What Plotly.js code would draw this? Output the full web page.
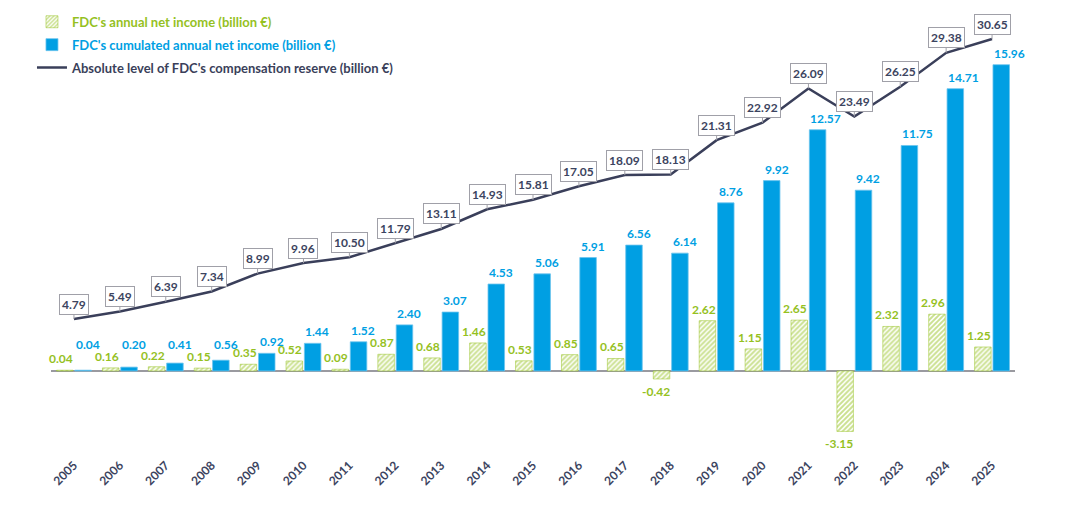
<!DOCTYPE html>
<html>
<head>
<meta charset="utf-8">
<script src="https://cdn.plot.ly/plotly-3.0.1.min.js"></script>
<style>html,body{margin:0;padding:0;background:#fff;}#chart{width:1066px;height:522px;}</style>
</head>
<body>
<div id="chart"></div>
<script>
const years = ['2005','2006','2007','2008','2009','2010','2011','2012','2013','2014','2015','2016','2017','2018','2019','2020','2021','2022','2023','2024','2025'];
const annualNetIncome = [0.04,0.16,0.22,0.15,0.35,0.52,0.09,0.87,0.68,1.46,0.53,0.85,0.65,-0.42,2.62,1.15,2.65,-3.15,2.32,2.96,1.25];
const cumulatedNetIncome = [0.04,0.20,0.41,0.56,0.92,1.44,1.52,2.40,3.07,4.53,5.06,5.91,6.56,6.14,8.76,9.92,12.57,9.42,11.75,14.71,15.96];
const compensationReserve = [4.79,5.49,6.39,7.34,8.99,9.96,10.50,11.79,13.11,14.93,15.81,17.05,18.09,18.13,21.31,22.92,26.09,23.49,26.25,29.38,30.65];
const seriesNames = ["FDC's annual net income (billion €)", "FDC's cumulated annual net income (billion €)", "Absolute level of FDC's compensation reserve (billion €)"];

const GREEN = '#95c11f', BLUE = '#009fe3', DARK = '#3a3f5a', LABEL = '#3c4460';
const FONT = 'Lato, "Open Sans", sans-serif';

const traces = [
  {
    type: 'bar', x: years, y: annualNetIncome,
    name: '<span style="color:' + GREEN + '">' + seriesNames[0] + '</span>',
    legendgroup: 'a',
    marker: {color: GREEN, line: {color: GREEN, width: 0.5},
      pattern: {shape: '/', fgcolor: GREEN, bgcolor: '#ffffff', size: 3.5, solidity: 0.55, fillmode: 'overlay'}},
    hoverinfo: 'skip'
  },
  {
    type: 'bar', x: years, y: cumulatedNetIncome,
    name: '<span style="color:' + BLUE + '">' + seriesNames[1] + '</span>',
    legendgroup: 'b',
    marker: {color: BLUE, line: {color: '#6cc4ee', width: 0.8}},
    hoverinfo: 'skip'
  },
  {
    type: 'scatter', mode: 'lines', x: years, y: compensationReserve, yaxis: 'y2',
    name: '<span style="color:' + DARK + '">' + seriesNames[2] + '</span>',
    legendgroup: 'c',
    line: {color: DARK, width: 2.5}, hoverinfo: 'skip'
  }
];

const reserveLabels = compensationReserve.map((v, i) => ({
  x: i, y: v, xref: 'x', yref: 'y2',
  text: v.toFixed(2), showarrow: true, arrowhead: 0, arrowwidth: 1, arrowcolor: '#a0a0a8',
  ax: 0, ay: -15, bordercolor: '#a0a0a8', borderwidth: 1, borderpad: 2, bgcolor: '#ffffff',
  font: {family: FONT, size: 12, color: LABEL, weight: 700}
}));

const annualLabels = annualNetIncome.map((v, i) => ({
  x: i, y: v, xref: 'x', yref: 'y', showarrow: false,
  text: v.toFixed(2), xanchor: 'right', xshift: 0, borderpad: 0,
  yanchor: v >= 0 ? 'bottom' : 'top', yshift: v >= 0 ? 3 : -4,
  font: {family: FONT, size: 12, color: GREEN, weight: 700}
}));

// small cumulated bars: label lifted above the annual label (placement only)
const cumulatedLabels = cumulatedNetIncome.map((v, i) => ({
  x: i, y: v, xref: 'x', yref: 'y', showarrow: false,
  text: v.toFixed(2), xanchor: 'left', xshift: 1, borderpad: 0,
  yanchor: 'bottom', yshift: 3 + Math.max(0, (0.8 - v) * 19.19),
  font: {family: FONT, size: 12, color: BLUE, weight: 700}
}));

const yRange = [-4.38, 18.29];
const scaleRatio = 19.19 / 10.83;

const layout = {
  width: 1066, height: 522,
  margin: {l: 51, r: 51, t: 20, b: 67, autoexpand: false},
  paper_bgcolor: '#ffffff', plot_bgcolor: '#ffffff',
  font: {family: FONT, color: LABEL},
  barmode: 'group', bargap: 0.2, bargroupgap: 0.1,
  showlegend: true,
  legend: {xref: 'container', yref: 'container', x: 0.03, y: 0.987, xanchor: 'left', yanchor: 'top', orientation: 'v',
    traceorder: 'grouped', tracegroupgap: 3, bgcolor: 'rgba(0,0,0,0)',
    font: {family: FONT, size: 13, weight: 700}},
  xaxis: {type: 'category', range: [-0.5, years.length - 0.5], autorange: false,
    tickangle: -45, showline: false, ticks: '', showgrid: false,
    tickfont: {family: FONT, size: 12, color: LABEL, weight: 700}},
  yaxis: {range: yRange, autorange: false, showgrid: false, showticklabels: false, ticks: '', showline: false,
    zeroline: true, zerolinecolor: '#9a9aa0', zerolinewidth: 1.5},
  yaxis2: {range: [yRange[0] * scaleRatio, yRange[1] * scaleRatio], autorange: false, overlaying: 'y', side: 'right',
    showgrid: false, showticklabels: false, ticks: '', showline: false, zeroline: false},
  annotations: reserveLabels.concat(annualLabels, cumulatedLabels)
};

Plotly.newPlot('chart', traces, layout, {displayModeBar: false, staticPlot: true});
</script>
</body>
</html>
